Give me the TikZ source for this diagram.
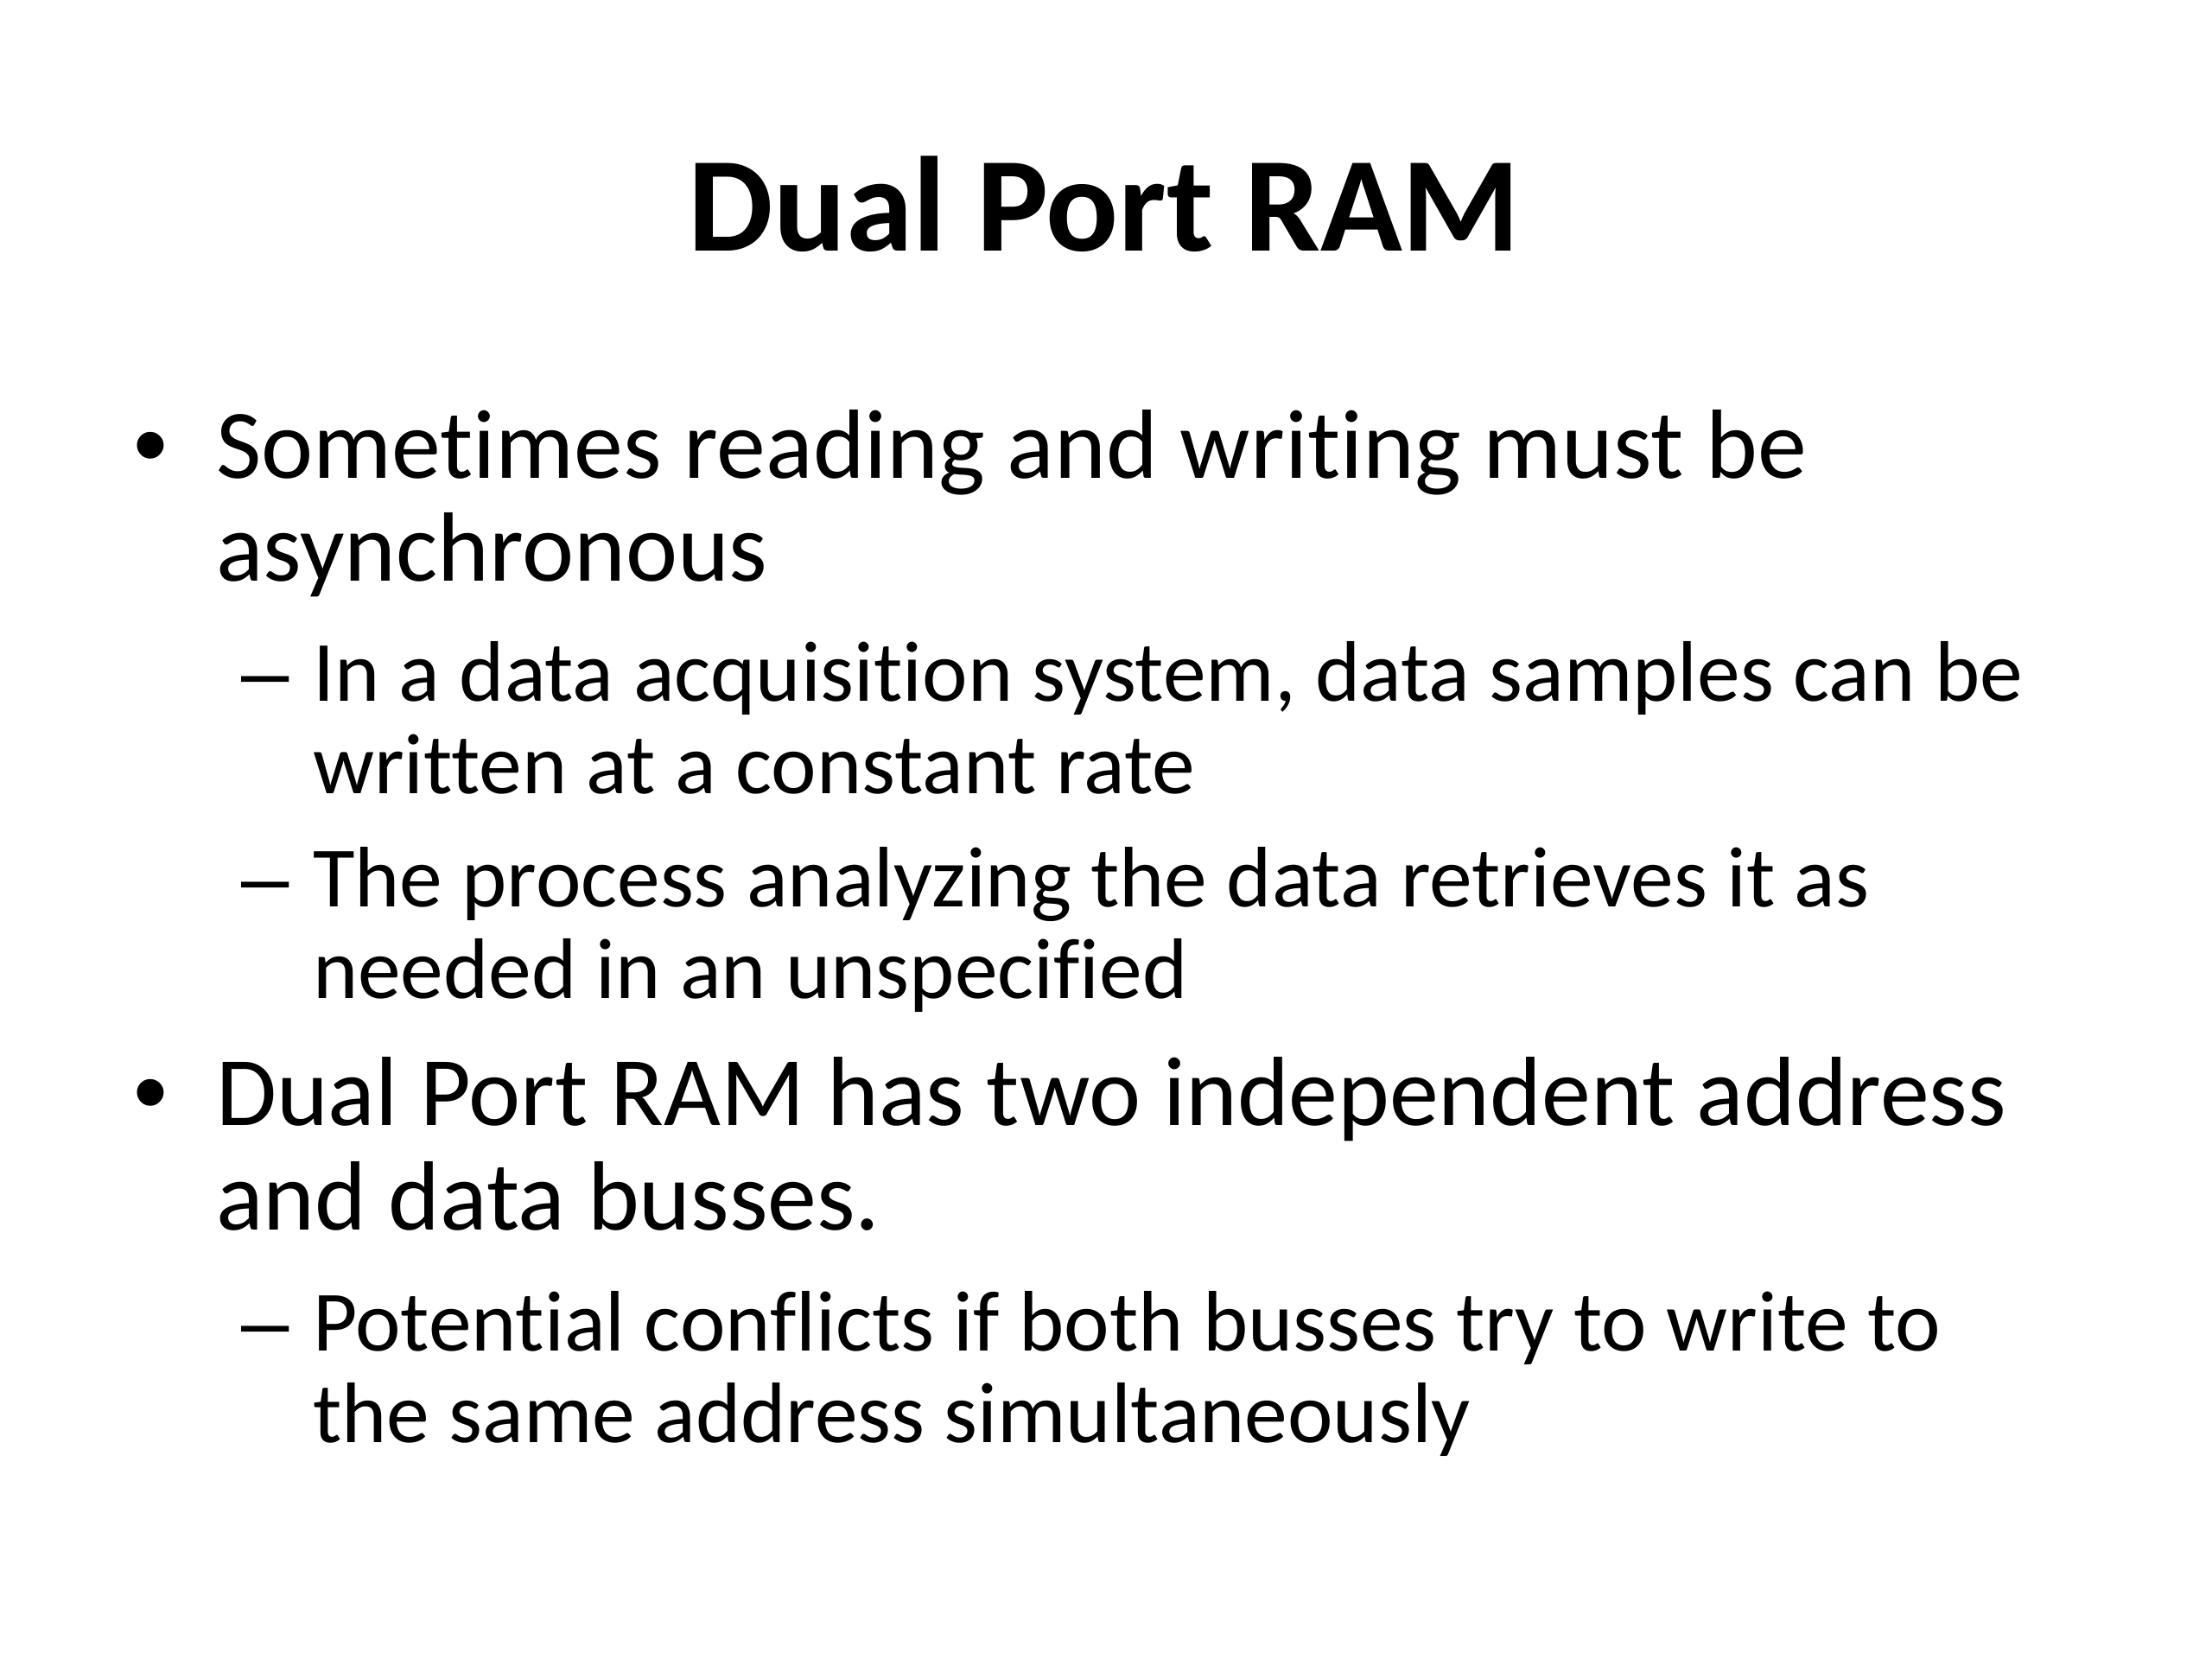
\documentclass[tikz,border=0pt]{standalone}
\usepackage{fontspec}
\setmainfont{Carlito}[Ligatures=NoCommon]
\newfontfamily\arialfont{Liberation Sans}
\begin{document}
\begin{tikzpicture}[
  every node/.style={inner sep=0pt, outer sep=0pt, text=black},
  title/.style={anchor=base, font=\fontsize{44.5}{50}\selectfont\bfseries},
  lvlone/.style={anchor=base west, font=\fontsize{32.4}{38}\selectfont},
  lvltwo/.style={anchor=base west, font=\fontsize{28.3}{34}\selectfont},
  bulletone/.style={anchor=base west, font=\arialfont\fontsize{32.4}{38}\selectfont},
  bullettwo/.style={anchor=base west, font=\arialfont\fontsize{28.3}{34}\selectfont}
]
\useasboundingbox[fill=white] (0,0) rectangle (25.6,19.2);
\node[title] (t) at (12.78,16.29) {Dual Port RAM};
% bullet 1
\node[bulletone] (b1) at (1.54,13.66) {•};
\node[lvlone] (b1a) at (2.50,13.66) {Sometimes reading and writing must be};
\node[lvlone] (b1b) at (2.50,12.47) {asynchronous};
% sub 1
\node[bullettwo] (s1) at (2.79,11.08) {–};
\node[lvltwo] (s1a) at (3.62,11.08) {In a data acquisition system, data samples can be};
\node[lvltwo] (s1b) at (3.62,10.01) {written at a constant rate};
% sub 2
\node[bullettwo] (s2) at (2.79,8.70) {–};
\node[lvltwo] (s2a) at (3.62,8.70) {The process analyzing the data retrieves it as};
\node[lvltwo] (s2b) at (3.62,7.64) {needed in an unspecified};
% bullet 2
\node[bulletone] (b2) at (1.54,6.17) {•};
\node[lvlone] (b2a) at (2.50,6.17) {Dual Port RAM has two independent address};
\node[lvlone] (b2b) at (2.50,4.96) {and data busses.};
% sub 3
\node[bullettwo] (s3) at (2.79,3.56) {–};
\node[lvltwo] (s3a) at (3.62,3.56) {Potential conflicts if both busses try to write to};
\node[lvltwo] (s3b) at (3.62,2.50) {the same address simultaneously};
\end{tikzpicture}
\end{document}
